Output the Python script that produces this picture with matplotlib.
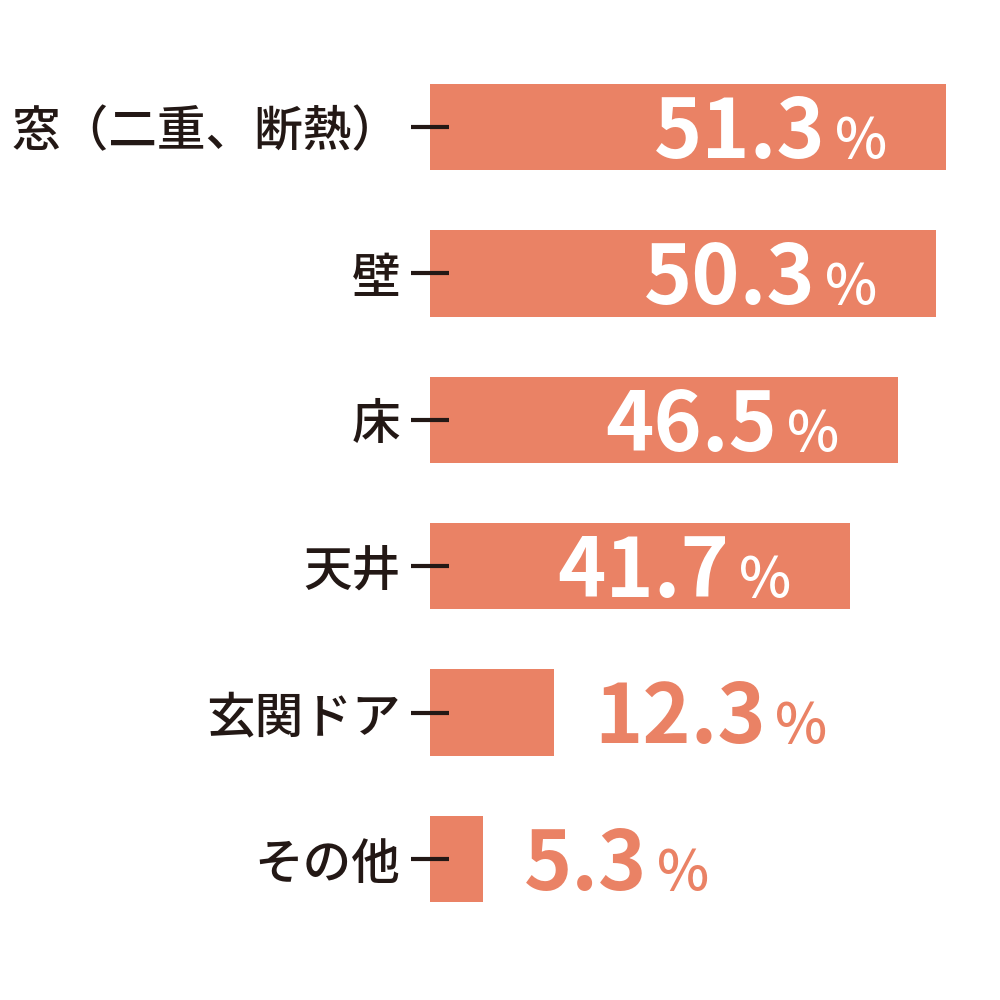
import matplotlib
matplotlib.use("Agg")
import matplotlib.pyplot as plt

categories = ['窓（二重、断熱）', '壁', '床', '天井', '玄関ドア', 'その他']
values = [51.3, 50.3, 46.5, 41.7, 12.3, 5.3]

barColor = '#EA8265'
textColor = '#231815'

plt.rcParams['font.family'] = ['Noto Sans CJK JP', 'DejaVu Sans']

fig = plt.figure(figsize=(10, 10), dpi=100)
ax = fig.add_axes([0.43, 0.0, 0.57, 1.0])

ypos = list(range(len(values)))
ax.barh(ypos, values, height=0.59, color=barColor, zorder=1)
ax.set_xlim(0, 56.66)
ax.set_ylim(5.963, -0.867)

ax.set_yticks(ypos)
ax.set_yticklabels(categories, fontsize=35, color=textColor, fontweight='medium')
ax.tick_params(axis='y', direction='inout', length=27, width=3, color=textColor, pad=8)
ax.tick_params(axis='x', bottom=False, labelbottom=False)
for s in ax.spines.values():
    s.set_visible(False)

# value labels: white inside long bars, bar colour outside short ones
fig.canvas.draw()
renderer = fig.canvas.get_renderer()
for i, v in enumerate(values):
    if v > 30:
        t = ax.text(v - 12, i + 0.21, f'{v}', ha='right', va='baseline',
                    color='white', fontsize=59, fontweight='bold')
        col = 'white'
    else:
        t = ax.text(v + 4, i + 0.21, f'{v}', ha='left', va='baseline',
                    color=barColor, fontsize=59, fontweight='bold')
        col = barColor
    bb = t.get_window_extent(renderer)
    xEnd = ax.transData.inverted().transform((bb.x1, bb.y0))[0]
    ax.annotate('%', (xEnd, i + 0.21), xytext=(7, 0), textcoords='offset points',
                ha='left', va='baseline', color=col, fontsize=40, fontweight='medium')

fig.savefig('out.png', dpi=100)
